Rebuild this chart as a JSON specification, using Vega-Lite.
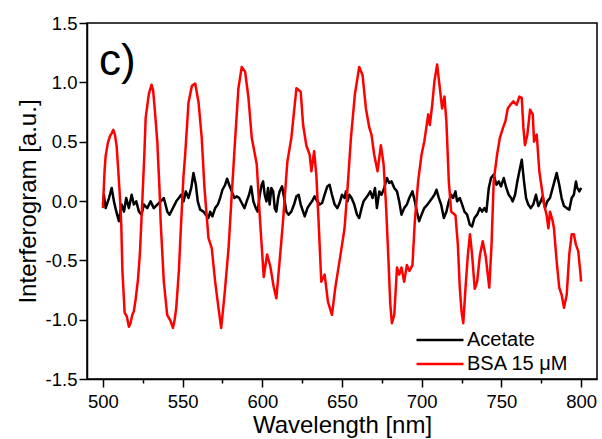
{
  "$schema": "https://vega.github.io/schema/vega-lite/v6.json",
  "width": 510,
  "height": 356,
  "autosize": {"type": "none"},
  "padding": {"left": 87, "top": 23, "right": 5, "bottom": 60},
  "background": "white",
  "config": {
    "font": "Liberation Sans",
    "view": {"stroke": "#000000", "strokeWidth": 1.5},
    "axis": {
      "domainColor": "#000000", "domainWidth": 1.5,
      "tickColor": "#000000", "tickWidth": 1.5,
      "labelFont": "Liberation Sans", "labelFontSize": 18.5, "labelColor": "#000000",
      "titleFont": "Liberation Sans", "titleFontSize": 24, "titleFontWeight": "normal", "titleColor": "#000000",
      "grid": false
    }
  },
  "layer": [
    {
      "data": {"values": [
        {"s":"Acetate","wl":500.0,"v":-0.03},{"s":"Acetate","wl":500.6,"v":0.05},{"s":"Acetate","wl":501.7,"v":-0.06},{"s":"Acetate","wl":503.8,"v":0.025},{"s":"Acetate","wl":505.5,"v":0.11},{"s":"Acetate","wl":506.9,"v":-0.003},{"s":"Acetate","wl":508.4,"v":-0.09},{"s":"Acetate","wl":510.0,"v":-0.17},{"s":"Acetate","wl":511.7,"v":-0.03},{"s":"Acetate","wl":513.2,"v":-0.09},{"s":"Acetate","wl":514.6,"v":0.025},{"s":"Acetate","wl":516.3,"v":-0.06},{"s":"Acetate","wl":518.0,"v":0.053},{"s":"Acetate","wl":519.4,"v":-0.03},{"s":"Acetate","wl":520.9,"v":-0.003},{"s":"Acetate","wl":522.6,"v":-0.09},{"s":"Acetate","wl":524.2,"v":-0.115},{"s":"Acetate","wl":525.7,"v":-0.03},{"s":"Acetate","wl":527.8,"v":-0.06},{"s":"Acetate","wl":529.9,"v":-0.003},{"s":"Acetate","wl":531.9,"v":-0.06},{"s":"Acetate","wl":534.1,"v":-0.03},{"s":"Acetate","wl":536.2,"v":-0.003},{"s":"Acetate","wl":538.2,"v":0.025},{"s":"Acetate","wl":540.4,"v":-0.09},{"s":"Acetate","wl":541.8,"v":-0.115},{"s":"Acetate","wl":543.9,"v":-0.06},{"s":"Acetate","wl":546.0,"v":-0.003},{"s":"Acetate","wl":547.6,"v":0.025},
        {"s":"Acetate","wl":549.1,"v":0.053},{"s":"Acetate","wl":550.6,"v":-0.003},{"s":"Acetate","wl":552.0,"v":0.081},{"s":"Acetate","wl":553.7,"v":0.025},{"s":"Acetate","wl":555.4,"v":0.11},{"s":"Acetate","wl":556.8,"v":0.236},{"s":"Acetate","wl":558.3,"v":0.137},{"s":"Acetate","wl":559.5,"v":-0.003},{"s":"Acetate","wl":561.0,"v":-0.073},{"s":"Acetate","wl":563.1,"v":-0.09},{"s":"Acetate","wl":564.5,"v":-0.115},{"s":"Acetate","wl":566.2,"v":-0.143},{"s":"Acetate","wl":567.3,"v":-0.09},{"s":"Acetate","wl":568.7,"v":-0.13},{"s":"Acetate","wl":570.4,"v":-0.06},{"s":"Acetate","wl":572.1,"v":-0.03},{"s":"Acetate","wl":573.5,"v":0.025},{"s":"Acetate","wl":575.0,"v":0.095},{"s":"Acetate","wl":576.7,"v":0.137},{"s":"Acetate","wl":577.9,"v":0.188},{"s":"Acetate","wl":579.2,"v":0.137},{"s":"Acetate","wl":580.8,"v":0.081},{"s":"Acetate","wl":582.5,"v":0.025},{"s":"Acetate","wl":584.0,"v":0.039},{"s":"Acetate","wl":585.5,"v":0.025},{"s":"Acetate","wl":587.1,"v":-0.017},{"s":"Acetate","wl":588.8,"v":-0.06},{"s":"Acetate","wl":590.2,"v":-0.003},{"s":"Acetate","wl":591.7,"v":0.053},{"s":"Acetate","wl":593.0,"v":0.123},{"s":"Acetate","wl":594.4,"v":-0.003},{"s":"Acetate","wl":595.9,"v":-0.06},{"s":"Acetate","wl":597.1,"v":-0.09},{"s":"Acetate","wl":598.4,"v":0.053},{"s":"Acetate","wl":599.6,"v":0.137},
        {"s":"Acetate","wl":600.5,"v":0.165},{"s":"Acetate","wl":601.5,"v":0.053},{"s":"Acetate","wl":602.6,"v":-0.003},{"s":"Acetate","wl":603.6,"v":0.11},{"s":"Acetate","wl":604.6,"v":-0.03},{"s":"Acetate","wl":605.7,"v":0.11},{"s":"Acetate","wl":606.8,"v":0.081},{"s":"Acetate","wl":607.8,"v":-0.06},{"s":"Acetate","wl":608.8,"v":-0.09},{"s":"Acetate","wl":609.9,"v":0.025},{"s":"Acetate","wl":610.9,"v":0.081},{"s":"Acetate","wl":612.4,"v":0.123},{"s":"Acetate","wl":613.7,"v":0.025},{"s":"Acetate","wl":615.1,"v":-0.09},{"s":"Acetate","wl":616.5,"v":-0.115},{"s":"Acetate","wl":618.2,"v":-0.09},{"s":"Acetate","wl":619.9,"v":-0.03},{"s":"Acetate","wl":621.4,"v":0.039},{"s":"Acetate","wl":622.8,"v":0.053},{"s":"Acetate","wl":624.1,"v":-0.03},{"s":"Acetate","wl":625.6,"v":-0.09},{"s":"Acetate","wl":626.6,"v":-0.13},{"s":"Acetate","wl":628.3,"v":-0.06},{"s":"Acetate","wl":629.7,"v":-0.03},{"s":"Acetate","wl":631.2,"v":-0.003},{"s":"Acetate","wl":632.8,"v":0.039},{"s":"Acetate","wl":634.5,"v":-0.003},{"s":"Acetate","wl":636.0,"v":-0.03},{"s":"Acetate","wl":637.5,"v":-0.017},{"s":"Acetate","wl":639.1,"v":0.053},{"s":"Acetate","wl":640.8,"v":0.123},{"s":"Acetate","wl":642.2,"v":0.137},{"s":"Acetate","wl":643.7,"v":0.053},{"s":"Acetate","wl":645.4,"v":-0.03},{"s":"Acetate","wl":647.1,"v":-0.06},{"s":"Acetate","wl":648.5,"v":-0.017},{"s":"Acetate","wl":650.0,"v":0.053},{"s":"Acetate","wl":651.6,"v":0.025},
        {"s":"Acetate","wl":652.5,"v":0.081},{"s":"Acetate","wl":653.5,"v":-0.003},{"s":"Acetate","wl":654.6,"v":0.053},{"s":"Acetate","wl":656.0,"v":0.025},{"s":"Acetate","wl":657.7,"v":-0.03},{"s":"Acetate","wl":659.4,"v":-0.115},{"s":"Acetate","wl":660.8,"v":-0.143},{"s":"Acetate","wl":662.3,"v":-0.06},{"s":"Acetate","wl":663.5,"v":-0.003},{"s":"Acetate","wl":665.0,"v":0.025},{"s":"Acetate","wl":666.5,"v":0.053},{"s":"Acetate","wl":667.7,"v":0.081},{"s":"Acetate","wl":669.2,"v":0.025},{"s":"Acetate","wl":670.7,"v":0.11},{"s":"Acetate","wl":671.9,"v":-0.06},{"s":"Acetate","wl":673.4,"v":0.081},{"s":"Acetate","wl":674.8,"v":0.053},{"s":"Acetate","wl":676.5,"v":0.11},{"s":"Acetate","wl":678.2,"v":0.194},{"s":"Acetate","wl":679.6,"v":0.152},{"s":"Acetate","wl":681.1,"v":0.165},{"s":"Acetate","wl":682.8,"v":0.11},{"s":"Acetate","wl":684.5,"v":0.081},{"s":"Acetate","wl":685.9,"v":-0.003},{"s":"Acetate","wl":687.3,"v":-0.115},{"s":"Acetate","wl":689.0,"v":-0.06},{"s":"Acetate","wl":690.7,"v":-0.03},{"s":"Acetate","wl":692.2,"v":0.025},{"s":"Acetate","wl":694.2,"v":0.081},{"s":"Acetate","wl":695.7,"v":-0.003},{"s":"Acetate","wl":697.0,"v":-0.09},{"s":"Acetate","wl":698.4,"v":-0.17},{"s":"Acetate","wl":699.9,"v":-0.115},{"s":"Acetate","wl":701.6,"v":-0.06},{"s":"Acetate","wl":703.6,"v":-0.03},
        {"s":"Acetate","wl":705.1,"v":-0.003},{"s":"Acetate","wl":706.6,"v":0.025},{"s":"Acetate","wl":708.0,"v":0.053},{"s":"Acetate","wl":709.3,"v":0.095},{"s":"Acetate","wl":710.8,"v":0.025},{"s":"Acetate","wl":712.2,"v":-0.03},{"s":"Acetate","wl":713.9,"v":-0.143},{"s":"Acetate","wl":715.5,"v":-0.09},{"s":"Acetate","wl":717.0,"v":-0.003},{"s":"Acetate","wl":718.5,"v":0.053},{"s":"Acetate","wl":719.7,"v":0.025},{"s":"Acetate","wl":721.2,"v":0.081},{"s":"Acetate","wl":722.2,"v":-0.003},{"s":"Acetate","wl":723.9,"v":0.025},{"s":"Acetate","wl":725.4,"v":-0.03},{"s":"Acetate","wl":726.8,"v":-0.09},{"s":"Acetate","wl":728.5,"v":-0.115},{"s":"Acetate","wl":730.2,"v":-0.2},{"s":"Acetate","wl":731.6,"v":-0.214},{"s":"Acetate","wl":733.1,"v":-0.143},{"s":"Acetate","wl":734.8,"v":-0.115},{"s":"Acetate","wl":736.5,"v":-0.06},{"s":"Acetate","wl":737.9,"v":-0.09},{"s":"Acetate","wl":739.3,"v":-0.06},{"s":"Acetate","wl":740.6,"v":-0.09},{"s":"Acetate","wl":742.1,"v":0.11},{"s":"Acetate","wl":743.5,"v":0.194},{"s":"Acetate","wl":745.2,"v":0.222},{"s":"Acetate","wl":746.9,"v":0.137},{"s":"Acetate","wl":748.4,"v":0.165},{"s":"Acetate","wl":749.8,"v":0.123},{"s":"Acetate","wl":751.5,"v":0.194},{"s":"Acetate","wl":753.1,"v":0.11},{"s":"Acetate","wl":754.6,"v":0.053},{"s":"Acetate","wl":756.1,"v":0.025},
        {"s":"Acetate","wl":757.1,"v":-0.003},{"s":"Acetate","wl":758.6,"v":0.053},{"s":"Acetate","wl":760.0,"v":0.165},{"s":"Acetate","wl":761.7,"v":0.278},{"s":"Acetate","wl":762.8,"v":0.348},{"s":"Acetate","wl":764.2,"v":0.165},{"s":"Acetate","wl":765.5,"v":0.025},{"s":"Acetate","wl":766.9,"v":-0.03},{"s":"Acetate","wl":768.4,"v":-0.06},{"s":"Acetate","wl":770.0,"v":-0.03},{"s":"Acetate","wl":771.7,"v":0.053},{"s":"Acetate","wl":773.2,"v":-0.043},{"s":"Acetate","wl":774.7,"v":-0.003},{"s":"Acetate","wl":775.9,"v":0.039},{"s":"Acetate","wl":777.4,"v":-0.06},{"s":"Acetate","wl":778.8,"v":-0.003},{"s":"Acetate","wl":780.5,"v":0.025},{"s":"Acetate","wl":782.2,"v":0.11},{"s":"Acetate","wl":783.6,"v":0.18},{"s":"Acetate","wl":784.7,"v":0.236},{"s":"Acetate","wl":786.3,"v":0.137},{"s":"Acetate","wl":787.8,"v":0.025},{"s":"Acetate","wl":789.3,"v":-0.043},{"s":"Acetate","wl":791.0,"v":-0.06},{"s":"Acetate","wl":792.6,"v":-0.073},{"s":"Acetate","wl":794.1,"v":0.025},{"s":"Acetate","wl":795.5,"v":0.053},{"s":"Acetate","wl":796.8,"v":0.165},{"s":"Acetate","wl":797.6,"v":0.11},{"s":"Acetate","wl":798.9,"v":0.081},{"s":"Acetate","wl":800.1,"v":0.11},

        {"s":"BSA 15 μM","wl":500.0,"v":-0.06},{"s":"BSA 15 μM","wl":501.0,"v":0.25},{"s":"BSA 15 μM","wl":501.7,"v":0.38},{"s":"BSA 15 μM","wl":503.1,"v":0.49},{"s":"BSA 15 μM","wl":504.5,"v":0.55},{"s":"BSA 15 μM","wl":505.5,"v":0.57},{"s":"BSA 15 μM","wl":506.5,"v":0.6},{"s":"BSA 15 μM","wl":507.5,"v":0.56},{"s":"BSA 15 μM","wl":508.6,"v":0.46},{"s":"BSA 15 μM","wl":509.8,"v":0.22},{"s":"BSA 15 μM","wl":510.8,"v":0.0},{"s":"BSA 15 μM","wl":511.5,"v":-0.2},{"s":"BSA 15 μM","wl":512.2,"v":-0.58},{"s":"BSA 15 μM","wl":513.6,"v":-0.94},{"s":"BSA 15 μM","wl":514.9,"v":-0.97},{"s":"BSA 15 μM","wl":516.3,"v":-1.06},{"s":"BSA 15 μM","wl":517.3,"v":-1.03},{"s":"BSA 15 μM","wl":518.4,"v":-0.96},{"s":"BSA 15 μM","wl":519.4,"v":-0.93},{"s":"BSA 15 μM","wl":520.5,"v":-0.83},{"s":"BSA 15 μM","wl":522.0,"v":-0.66},{"s":"BSA 15 μM","wl":523.2,"v":-0.44},{"s":"BSA 15 μM","wl":524.7,"v":0.0},{"s":"BSA 15 μM","wl":526.0,"v":0.4},{"s":"BSA 15 μM","wl":526.8,"v":0.7},{"s":"BSA 15 μM","wl":528.8,"v":0.9},{"s":"BSA 15 μM","wl":530.5,"v":0.98},{"s":"BSA 15 μM","wl":531.5,"v":0.93},{"s":"BSA 15 μM","wl":532.6,"v":0.76},{"s":"BSA 15 μM","wl":534.1,"v":0.5},{"s":"BSA 15 μM","wl":535.5,"v":0.1},{"s":"BSA 15 μM","wl":536.2,"v":-0.17},{"s":"BSA 15 μM","wl":538.2,"v":-0.68},{"s":"BSA 15 μM","wl":540.3,"v":-0.96},{"s":"BSA 15 μM","wl":542.4,"v":-1.01},{"s":"BSA 15 μM","wl":543.9,"v":-1.07},{"s":"BSA 15 μM","wl":545.0,"v":-1.0},{"s":"BSA 15 μM","wl":546.0,"v":-0.9},{"s":"BSA 15 μM","wl":547.6,"v":-0.6},{"s":"BSA 15 μM","wl":549.0,"v":-0.2},{"s":"BSA 15 μM","wl":550.5,"v":0.2},{"s":"BSA 15 μM","wl":551.6,"v":0.39},{"s":"BSA 15 μM","wl":553.7,"v":0.83},{"s":"BSA 15 μM","wl":555.8,"v":0.97},{"s":"BSA 15 μM","wl":557.9,"v":0.99},{"s":"BSA 15 μM","wl":560.0,"v":0.83},{"s":"BSA 15 μM","wl":562.0,"v":0.53},{"s":"BSA 15 μM","wl":563.7,"v":0.11},{"s":"BSA 15 μM","wl":566.2,"v":-0.31},{"s":"BSA 15 μM","wl":568.3,"v":-0.4},{"s":"BSA 15 μM","wl":570.4,"v":-0.68},{"s":"BSA 15 μM","wl":572.5,"v":-0.9},{"s":"BSA 15 μM","wl":574.2,"v":-1.07},{"s":"BSA 15 μM","wl":576.3,"v":-0.79},{"s":"BSA 15 μM","wl":578.8,"v":-0.4},{"s":"BSA 15 μM","wl":580.8,"v":0.05},{"s":"BSA 15 μM","wl":583.0,"v":0.53},{"s":"BSA 15 μM","wl":585.0,"v":0.95},{"s":"BSA 15 μM","wl":587.1,"v":1.13},{"s":"BSA 15 μM","wl":589.2,"v":1.09},{"s":"BSA 15 μM","wl":591.3,"v":0.87},{"s":"BSA 15 μM","wl":593.4,"v":0.53},{"s":"BSA 15 μM","wl":596.5,"v":0.31},{"s":"BSA 15 μM","wl":598.6,"v":-0.17},{"s":"BSA 15 μM","wl":600.9,"v":-0.64},{"s":"BSA 15 μM","wl":603.0,"v":-0.45},{"s":"BSA 15 μM","wl":605.0,"v":-0.55},{"s":"BSA 15 μM","wl":607.1,"v":-0.72},{"s":"BSA 15 μM","wl":608.8,"v":-0.82},{"s":"BSA 15 μM","wl":611.3,"v":-0.44},{"s":"BSA 15 μM","wl":613.0,"v":-0.17},{"s":"BSA 15 μM","wl":615.7,"v":0.33},{"s":"BSA 15 μM","wl":618.2,"v":0.53},{"s":"BSA 15 μM","wl":621.4,"v":0.95},{"s":"BSA 15 μM","wl":624.1,"v":0.92},{"s":"BSA 15 μM","wl":625.6,"v":0.64},{"s":"BSA 15 μM","wl":627.6,"v":0.47},{"s":"BSA 15 μM","wl":629.7,"v":0.39},{"s":"BSA 15 μM","wl":630.8,"v":0.25},{"s":"BSA 15 μM","wl":632.5,"v":0.42},{"s":"BSA 15 μM","wl":633.9,"v":0.22},{"s":"BSA 15 μM","wl":635.3,"v":-0.17},{"s":"BSA 15 μM","wl":637.0,"v":-0.68},{"s":"BSA 15 μM","wl":639.1,"v":-0.62},{"s":"BSA 15 μM","wl":641.2,"v":-0.85},{"s":"BSA 15 μM","wl":643.7,"v":-0.96},{"s":"BSA 15 μM","wl":645.8,"v":-0.73},{"s":"BSA 15 μM","wl":649.1,"v":-0.45},{"s":"BSA 15 μM","wl":651.6,"v":-0.23},{"s":"BSA 15 μM","wl":653.5,"v":0.11},{"s":"BSA 15 μM","wl":655.6,"v":0.53},{"s":"BSA 15 μM","wl":658.1,"v":0.9},{"s":"BSA 15 μM","wl":660.8,"v":1.13},{"s":"BSA 15 μM","wl":662.9,"v":1.06},{"s":"BSA 15 μM","wl":665.0,"v":0.78},{"s":"BSA 15 μM","wl":667.1,"v":0.62},{"s":"BSA 15 μM","wl":668.5,"v":0.56},{"s":"BSA 15 μM","wl":670.2,"v":0.39},{"s":"BSA 15 μM","wl":672.3,"v":0.25},{"s":"BSA 15 μM","wl":674.4,"v":0.47},{"s":"BSA 15 μM","wl":676.1,"v":0.31},{"s":"BSA 15 μM","wl":677.6,"v":-0.03},{"s":"BSA 15 μM","wl":679.0,"v":-0.45},{"s":"BSA 15 μM","wl":680.3,"v":-0.87},{"s":"BSA 15 μM","wl":681.3,"v":-1.03},{"s":"BSA 15 μM","wl":682.8,"v":-0.96},{"s":"BSA 15 μM","wl":684.5,"v":-0.56},{"s":"BSA 15 μM","wl":685.9,"v":-0.62},{"s":"BSA 15 μM","wl":687.3,"v":-0.56},{"s":"BSA 15 μM","wl":689.0,"v":-0.68},{"s":"BSA 15 μM","wl":690.7,"v":-0.54},{"s":"BSA 15 μM","wl":692.3,"v":-0.59},{"s":"BSA 15 μM","wl":694.2,"v":-0.54},{"s":"BSA 15 μM","wl":695.7,"v":-0.17},{"s":"BSA 15 μM","wl":697.8,"v":0.17},{"s":"BSA 15 μM","wl":699.9,"v":0.39},{"s":"BSA 15 μM","wl":701.6,"v":0.5},{"s":"BSA 15 μM","wl":702.6,"v":0.59},{"s":"BSA 15 μM","wl":704.1,"v":0.73},{"s":"BSA 15 μM","wl":705.1,"v":0.64},{"s":"BSA 15 μM","wl":706.6,"v":0.81},{"s":"BSA 15 μM","wl":708.0,"v":1.01},{"s":"BSA 15 μM","wl":709.7,"v":1.15},{"s":"BSA 15 μM","wl":711.4,"v":0.95},{"s":"BSA 15 μM","wl":712.8,"v":0.78},{"s":"BSA 15 μM","wl":714.3,"v":0.88},{"s":"BSA 15 μM","wl":715.5,"v":0.67},{"s":"BSA 15 μM","wl":717.0,"v":0.17},{"s":"BSA 15 μM","wl":718.5,"v":-0.09},{"s":"BSA 15 μM","wl":721.2,"v":-0.12},{"s":"BSA 15 μM","wl":722.7,"v":-0.37},{"s":"BSA 15 μM","wl":723.9,"v":-0.73},{"s":"BSA 15 μM","wl":725.0,"v":-0.93},{"s":"BSA 15 μM","wl":726.1,"v":-1.03},{"s":"BSA 15 μM","wl":727.5,"v":-0.73},{"s":"BSA 15 μM","wl":729.0,"v":-0.45},{"s":"BSA 15 μM","wl":730.3,"v":-0.28},{"s":"BSA 15 μM","wl":731.6,"v":-0.45},{"s":"BSA 15 μM","wl":733.3,"v":-0.74},{"s":"BSA 15 μM","wl":734.8,"v":-0.68},{"s":"BSA 15 μM","wl":736.5,"v":-0.46},{"s":"BSA 15 μM","wl":738.3,"v":-0.34},{"s":"BSA 15 μM","wl":740.2,"v":-0.47},{"s":"BSA 15 μM","wl":742.4,"v":-0.73},{"s":"BSA 15 μM","wl":743.8,"v":-0.38},{"s":"BSA 15 μM","wl":745.2,"v":0.17},{"s":"BSA 15 μM","wl":747.3,"v":0.39},{"s":"BSA 15 μM","wl":749.0,"v":0.53},{"s":"BSA 15 μM","wl":751.1,"v":0.62},{"s":"BSA 15 μM","wl":752.5,"v":0.67},{"s":"BSA 15 μM","wl":754.0,"v":0.78},{"s":"BSA 15 μM","wl":755.6,"v":0.81},{"s":"BSA 15 μM","wl":757.5,"v":0.84},{"s":"BSA 15 μM","wl":759.6,"v":0.81},{"s":"BSA 15 μM","wl":761.3,"v":0.88},{"s":"BSA 15 μM","wl":762.8,"v":0.87},{"s":"BSA 15 μM","wl":763.8,"v":0.62},{"s":"BSA 15 μM","wl":764.8,"v":0.47},{"s":"BSA 15 μM","wl":766.3,"v":0.56},{"s":"BSA 15 μM","wl":768.0,"v":0.77},{"s":"BSA 15 μM","wl":769.7,"v":0.73},{"s":"BSA 15 μM","wl":770.5,"v":0.5},{"s":"BSA 15 μM","wl":772.2,"v":0.56},{"s":"BSA 15 μM","wl":773.8,"v":0.25},{"s":"BSA 15 μM","wl":775.3,"v":0.11},{"s":"BSA 15 μM","wl":776.8,"v":-0.03},{"s":"BSA 15 μM","wl":778.4,"v":-0.12},{"s":"BSA 15 μM","wl":779.5,"v":-0.23},{"s":"BSA 15 μM","wl":780.5,"v":-0.09},{"s":"BSA 15 μM","wl":782.2,"v":-0.17},{"s":"BSA 15 μM","wl":783.0,"v":-0.23},{"s":"BSA 15 μM","wl":784.7,"v":-0.51},{"s":"BSA 15 μM","wl":786.3,"v":-0.73},{"s":"BSA 15 μM","wl":787.8,"v":-0.79},{"s":"BSA 15 μM","wl":789.3,"v":-0.9},{"s":"BSA 15 μM","wl":791.0,"v":-0.79},{"s":"BSA 15 μM","wl":792.6,"v":-0.45},{"s":"BSA 15 μM","wl":794.1,"v":-0.28},{"s":"BSA 15 μM","wl":795.5,"v":-0.28},{"s":"BSA 15 μM","wl":796.8,"v":-0.37},{"s":"BSA 15 μM","wl":798.2,"v":-0.42},{"s":"BSA 15 μM","wl":799.7,"v":-0.62},{"s":"BSA 15 μM","wl":800.0,"v":-0.68}
      ]},
      "mark": {"type": "line", "strokeWidth": 2.5, "strokeJoin": "round"},
      "encoding": {
        "x": {"field": "wl", "type": "quantitative",
          "scale": {"domain": [490, 810], "nice": false, "zero": false},
          "axis": {"title": "Wavelength [nm]", "values": [500,525,550,575,600,625,650,675,700,725,750,775,800],
            "labelExpr": "datum.value % 50 === 0 ? datum.label : ''",
            "tickSize": {"condition": {"test": "datum.value % 50 === 0", "value": 8}, "value": 4},
            "labelPadding": 5, "titlePadding": 3}},
        "y": {"field": "v", "type": "quantitative",
          "scale": {"domain": [-1.5, 1.5], "nice": false, "zero": false},
          "axis": {"title": "Interferogram [a.u.]",
            "values": [-1.5,-1.25,-1,-0.75,-0.5,-0.25,0,0.25,0.5,0.75,1,1.25,1.5],
            "labelExpr": "abs(datum.value*2 - round(datum.value*2)) < 0.001 ? replace(format(datum.value, '.1f'), '\u2212', '-') : ''",
            "tickSize": {"condition": {"test": "abs(datum.value*2 - round(datum.value*2)) < 0.001", "value": 8}, "value": 4},
            "labelPadding": 2, "titlePadding": 5}},
        "color": {"field": "s", "type": "nominal",
          "scale": {"domain": ["Acetate", "BSA 15 μM"], "range": ["#000000", "#ff0000"]},
          "legend": {"title": null, "orient": "none", "legendX": 340, "legendY": 304,
            "symbolType": "M-2,0H2", "symbolSize": 552, "symbolStrokeWidth": 2.5,
            "labelFont": "Liberation Sans", "labelFontSize": 20, "labelColor": "#000000",
            "labelOffset": 14, "rowPadding": 1, "padding": 0}}
      }
    },
    {
      "data": {"values": [{"wl": 497.5, "v": 1.175, "t": "c)"}]},
      "mark": {"type": "text", "align": "left", "baseline": "middle", "fontSize": 44, "font": "Liberation Sans", "color": "#000000"},
      "encoding": {
        "x": {"field": "wl", "type": "quantitative"},
        "y": {"field": "v", "type": "quantitative"},
        "text": {"field": "t"}
      }
    }
  ]
}
